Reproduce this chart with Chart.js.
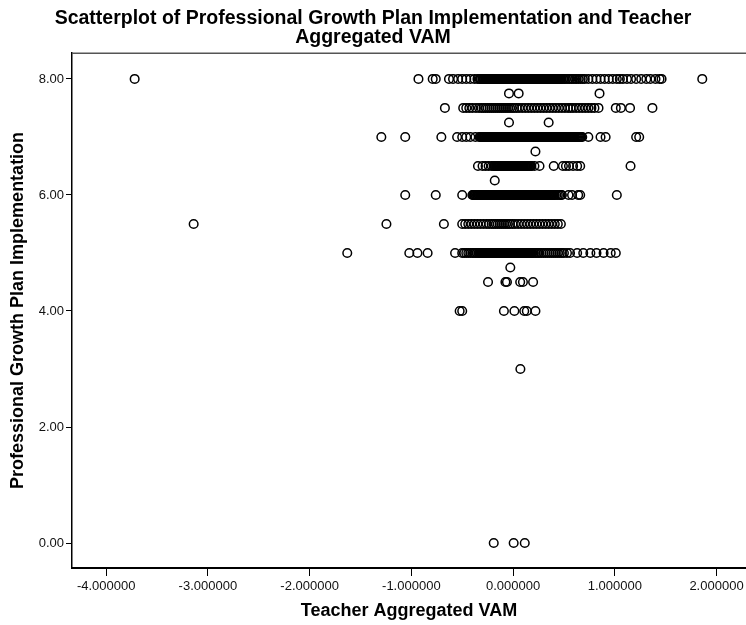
<!DOCTYPE html>
<html>
<head>
<meta charset="utf-8">
<script src="https://cdn.jsdelivr.net/npm/chart.js@4.4.1/dist/chart.umd.min.js"></script>
<style>
    body { margin: 0; background: #fff; }
    canvas { display: block; }
</style>
</head>
<body>
<canvas id="scatterChart" width="746" height="625"></canvas>
<script>
// Professional Growth Plan Implementation (y) vs Teacher Aggregated VAM (x)
const titleLines = ['Scatterplot of Professional Growth Plan Implementation and Teacher', 'Aggregated VAM'];
const xTitle = 'Teacher Aggregated VAM';
const yTitle = 'Professional Growth Plan Implementation';
const xTicks = [-4, -3, -2, -1, 0, 1, 2];
const yTicks = [0, 2, 4, 6, 8];

// growth plan levels (one row of points each)
const growthLevels = [8, 7.75, 7.5, 7.25, 7, 6.75, 6.5, 6.25, 6, 5.5, 5, 4.75, 4.5, 4, 3, 0];

// VAM values (dense clusters need many overlapping points)
const vamAt800 = [-3.72, -0.93, -0.79, -0.76, -0.63, -0.59, -0.54, -0.50, -0.46, -0.42, -0.38, -0.35,
    -0.33, -0.315, -0.30, -0.29, -0.275, -0.26, -0.245, -0.235, -0.22, -0.205, -0.19, -0.18, -0.165, -0.15,
    -0.14, -0.125, -0.11, -0.095, -0.085, -0.07, -0.055, -0.045, -0.03, -0.015, -0.005, 0.01, 0.025, 0.035,
    0.05, 0.065, 0.075, 0.09, 0.105, 0.115, 0.13, 0.145, 0.155, 0.17, 0.185, 0.195, 0.21, 0.225, 0.235, 0.25,
    0.265, 0.275, 0.29, 0.305, 0.315, 0.33, 0.345, 0.355, 0.37, 0.385, 0.395, 0.41, 0.425, 0.435, 0.45, 0.465,
    0.475, 0.49, 0.505, 0.52, 0.54, 0.555, 0.575, 0.59, 0.61, 0.625, 0.645, 0.665, 0.685, 0.705,
    0.74, 0.78, 0.82, 0.86, 0.90, 0.94, 0.98, 1.02, 1.05, 1.08, 1.12, 1.16, 1.21, 1.26, 1.31, 1.35, 1.40,
    1.44, 1.46, 1.86,
    -0.3225, -0.2975, -0.2825, -0.2675, -0.2525, -0.24, -0.2275, -0.2125, -0.1975, -0.185, -0.1725, -0.1575,
    -0.145, -0.1325, -0.1175, -0.1025, -0.09, -0.0775, -0.0625, -0.05, -0.0375, -0.0225, -0.01, 0.0025,
    0.0175, 0.03, 0.0425, 0.0575, 0.07, 0.0825, 0.0975, 0.11, 0.1225, 0.1375, 0.15, 0.1625, 0.1775, 0.19,
    0.2025, 0.2175, 0.23, 0.2425, 0.2575, 0.27, 0.2825, 0.2975, 0.31, 0.3225, 0.3375, 0.35, 0.3625, 0.3775,
    0.39, 0.4025, 0.4175, 0.43, 0.4425, 0.4575, 0.47];
const vamAt775 = [-0.04, 0.055, 0.85];
const vamAt750 = [-0.67, -0.49, -0.46, -0.43, -0.40, -0.365, -0.335, -0.31, -0.29, -0.27, -0.25, -0.23, -0.21,
    -0.19, -0.17, -0.15, -0.13, -0.11, -0.09, -0.07, -0.05, -0.03, -0.01, 0.01, 0.035, 0.06, 0.09, 0.12, 0.15,
    0.18, 0.21, 0.24, 0.27, 0.30, 0.33, 0.36, 0.39, 0.42, 0.45, 0.48, 0.51, 0.54, 0.565, 0.59, 0.62, 0.65,
    0.68, 0.71, 0.74, 0.77, 0.80, 0.84, 1.01, 1.06, 1.15, 1.37];
const vamAt725 = [-0.04, 0.35];
const vamAt700 = [-1.295, -1.06, -0.705, -0.55, -0.50, -0.46, -0.42, -0.37,
    -0.33, -0.315, -0.30, -0.285, -0.275, -0.26, -0.245, -0.23, -0.22, -0.205, -0.19, -0.175, -0.165, -0.15,
    -0.135, -0.12, -0.11, -0.095, -0.08, -0.065, -0.055, -0.04, -0.025, -0.01, 0.0, 0.015, 0.03, 0.045, 0.055,
    0.07, 0.085, 0.10, 0.11, 0.125, 0.14, 0.155, 0.165, 0.18, 0.195, 0.21, 0.22, 0.235, 0.25, 0.265, 0.275,
    0.29, 0.305, 0.32, 0.33, 0.345, 0.36, 0.375, 0.385, 0.40, 0.415, 0.43, 0.445, 0.46, 0.48, 0.495, 0.515,
    0.53, 0.55, 0.565, 0.585, 0.60, 0.62, 0.64, 0.66, 0.68,
    0.74, 0.86, 0.91, 1.21, 1.24,
    -0.3225, -0.3075, -0.2925, -0.28, -0.2675, -0.2525, -0.2375, -0.225, -0.2125, -0.1975, -0.1825, -0.17,
    -0.1575, -0.1425, -0.1275, -0.115, -0.1025, -0.0875, -0.0725, -0.06, -0.0475, -0.0325, -0.0175, -0.005,
    0.0075, 0.0225, 0.0375, 0.05, 0.0625, 0.0775, 0.0925, 0.105, 0.1175, 0.1325, 0.1475, 0.16, 0.1725,
    0.1875, 0.2025, 0.215, 0.2275, 0.2425, 0.2575, 0.27, 0.2825, 0.2975, 0.3125, 0.325, 0.3375, 0.3525,
    0.3675, 0.38, 0.3925, 0.4075, 0.4225, 0.4375, 0.4525, 0.47, 0.4875, 0.505, 0.5225, 0.54, 0.5575, 0.575,
    0.5925, 0.61, 0.63, 0.65, 0.67];
const vamAt675 = [0.22];
const vamAt650 = [-0.345, -0.30, -0.27, -0.24, -0.21,
    -0.19, -0.175, -0.16, -0.15, -0.135, -0.12, -0.105, -0.095, -0.08, -0.065, -0.05, -0.04, -0.025, -0.01,
    0.005, 0.015, 0.03, 0.045, 0.06, 0.07, 0.085, 0.10, 0.115, 0.125, 0.14, 0.155, 0.17, 0.18,
    0.21, 0.26, 0.40, 0.49, 0.52, 0.55, 0.59, 0.63, 0.66, 1.155,
    -0.1825, -0.1675, -0.155, -0.1425, -0.1275, -0.1125, -0.1, -0.0875, -0.0725, -0.0575, -0.045, -0.0325,
    -0.0175, -0.0025, 0.01, 0.0225, 0.0375, 0.0525, 0.065, 0.0775, 0.0925, 0.1075, 0.12, 0.1325, 0.1475,
    0.1625, 0.175];
const vamAt625 = [-0.18];
const vamAt600 = [-1.06, -0.76, -0.50,
    -0.40, -0.385, -0.37, -0.355, -0.34, -0.325, -0.315, -0.30, -0.285, -0.27, -0.255, -0.245, -0.23, -0.215,
    -0.20, -0.19, -0.175, -0.16, -0.145, -0.13, -0.12, -0.105, -0.09, -0.075, -0.065, -0.05, -0.035, -0.02,
    -0.01, 0.005, 0.02, 0.035, 0.045, 0.06, 0.075, 0.09, 0.10, 0.115, 0.13, 0.145, 0.155, 0.17, 0.185, 0.20,
    0.21, 0.225, 0.24, 0.255, 0.265, 0.28, 0.295, 0.31, 0.32, 0.335, 0.35, 0.365, 0.38, 0.395, 0.41, 0.425,
    0.44, 0.455, 0.47, 0.48,
    0.545, 0.58, 0.64, 0.66, 1.02,
    -0.3925, -0.3775, -0.3625, -0.3475, -0.3325, -0.32, -0.3075, -0.2925, -0.2775, -0.2625, -0.25, -0.2375,
    -0.2225, -0.2075, -0.195, -0.1825, -0.1675, -0.1525, -0.1375, -0.125, -0.1125, -0.0975, -0.0825, -0.07,
    -0.0575, -0.0425, -0.0275, -0.015, -0.0025, 0.0125, 0.0275, 0.04, 0.0525, 0.0675, 0.0825, 0.095, 0.1075,
    0.1225, 0.1375, 0.15, 0.1625, 0.1775, 0.1925, 0.205, 0.2175, 0.2325, 0.2475, 0.26, 0.2725, 0.2875,
    0.3025, 0.315, 0.3275, 0.3425, 0.3575, 0.3725, 0.3875, 0.4025];
const vamAt550 = [-3.14, -1.245, -0.68,
    -0.50, -0.47, -0.44, -0.41, -0.38, -0.35, -0.32, -0.29, -0.26, -0.235, -0.21, -0.19, -0.17, -0.15, -0.13,
    -0.11, -0.09, -0.07, -0.05, -0.03, -0.005, 0.02, 0.05, 0.08, 0.11, 0.14, 0.17, 0.20, 0.23, 0.26, 0.29,
    0.32, 0.35, 0.38, 0.41, 0.44, 0.47];
const vamAt500 = [-1.63, -1.02, -0.94, -0.84, -0.57,
    -0.50, -0.48, -0.46, -0.44, -0.42, -0.40, -0.385, -0.37, -0.355, -0.34, -0.325, -0.31, -0.30, -0.285,
    -0.27, -0.255, -0.24, -0.23, -0.215, -0.20, -0.185, -0.17, -0.16, -0.145, -0.13, -0.115, -0.10, -0.09,
    -0.075, -0.06, -0.045, -0.03, -0.02, -0.005, 0.01, 0.025, 0.04, 0.05, 0.065, 0.08, 0.095, 0.11, 0.12,
    0.135, 0.15, 0.165, 0.18, 0.19, 0.205, 0.22, 0.235, 0.25, 0.26, 0.28, 0.30, 0.32, 0.34, 0.36, 0.38, 0.40,
    0.42, 0.44, 0.46, 0.48, 0.50, 0.53, 0.56,
    0.63, 0.69, 0.76, 0.82, 0.89, 0.96, 1.01,
    -0.3325, -0.3175, -0.305, -0.2925, -0.2775, -0.2625, -0.2475, -0.235, -0.2225, -0.2075, -0.1925, -0.1775,
    -0.165, -0.1525, -0.1375, -0.1225, -0.1075, -0.095, -0.0825, -0.0675, -0.0525, -0.0375, -0.025, -0.0125,
    0.0025, 0.0175, 0.0325, 0.045, 0.0575, 0.0725, 0.0875, 0.1025, 0.115, 0.1275, 0.1425, 0.1575, 0.1725,
    0.185];
const vamAt475 = [-0.027];
const vamAt450 = [-0.246, -0.075, -0.06, 0.07, 0.097, 0.197];
const vamAt400 = [-0.525, -0.50, -0.09, 0.013, 0.11, 0.135, 0.22];
const vamAt300 = [0.072];
const vamAt000 = [-0.19, 0.006, 0.115];

const vamByLevel = [vamAt800, vamAt775, vamAt750, vamAt725, vamAt700, vamAt675, vamAt650, vamAt625,
    vamAt600, vamAt550, vamAt500, vamAt475, vamAt450, vamAt400, vamAt300, vamAt000];

const points = growthLevels.flatMap((level, i) => vamByLevel[i].map(v => ({ x: v, y: level })));

const FONT = 'Arial, "Liberation Sans", Helvetica, sans-serif';

// thin grey frame line along the top of the plot
const topFrame = {
    id: 'topFrame',
    afterDraw(chart) {
        const { ctx, chartArea } = chart;
        ctx.save();
        ctx.strokeStyle = '#555';
        ctx.lineWidth = 1.5;
        ctx.beginPath();
        ctx.moveTo(chartArea.left, chartArea.top + 0.5);
        ctx.lineTo(chartArea.right, chartArea.top + 0.5);
        ctx.stroke();
        ctx.restore();
    }
};

new Chart(document.getElementById('scatterChart'), {
    type: 'scatter',
    data: {
        datasets: [{
            data: points,
            borderColor: '#000',
            backgroundColor: 'rgba(0,0,0,0)',
            pointRadius: 4.3,
            pointHoverRadius: 4.3,
            borderWidth: 1.5
        }]
    },
    options: {
        responsive: false,
        animation: false,
        layout: { padding: 0, autoPadding: false },
        plugins: {
            legend: { display: false },
            tooltip: { enabled: false },
            title: {
                display: true,
                text: titleLines,
                color: '#000',
                font: { family: FONT, size: 19.5, weight: 'bold', lineHeight: 0.97 },
                padding: { top: 9.5, bottom: 5.5 }
            }
        },
        scales: {
            x: {
                type: 'linear',
                min: -4.336,
                max: 2.29,
                afterBuildTicks: scale => { scale.ticks = xTicks.map(v => ({ value: v })); },
                afterFit: scale => {
                    scale.height = 57;
                    scale.paddingLeft = 0;
                    scale.paddingRight = 0;
                },
                grid: { drawOnChartArea: false, drawTicks: true, tickLength: 8, color: '#000' },
                border: { display: true, color: '#000', width: 2 },
                ticks: {
                    color: '#111',
                    padding: 3,
                    maxRotation: 0,
                    font: { family: FONT, size: 13 },
                    callback: v => v.toFixed(6)
                },
                title: {
                    display: true,
                    text: xTitle,
                    color: '#000',
                    font: { family: FONT, size: 18, weight: 'bold' },
                    padding: { top: 0, bottom: 3 }
                }
            },
            y: {
                type: 'linear',
                min: -0.43,
                max: 8.45,
                afterBuildTicks: scale => { scale.ticks = yTicks.map(v => ({ value: v })); },
                afterFit: scale => { scale.width = 72; },
                grid: { drawOnChartArea: false, drawTicks: true, tickLength: 6, color: '#000' },
                border: { display: true, color: '#000', width: 1.5 },
                ticks: {
                    color: '#111',
                    padding: 2,
                    font: { family: FONT, size: 13 },
                    callback: v => v.toFixed(2)
                },
                title: {
                    display: true,
                    text: yTitle,
                    color: '#000',
                    font: { family: FONT, size: 18, weight: 'bold' },
                    padding: { top: 7, bottom: 0 }
                }
            }
        }
    },
    plugins: [topFrame]
});
</script>
</body>
</html>
